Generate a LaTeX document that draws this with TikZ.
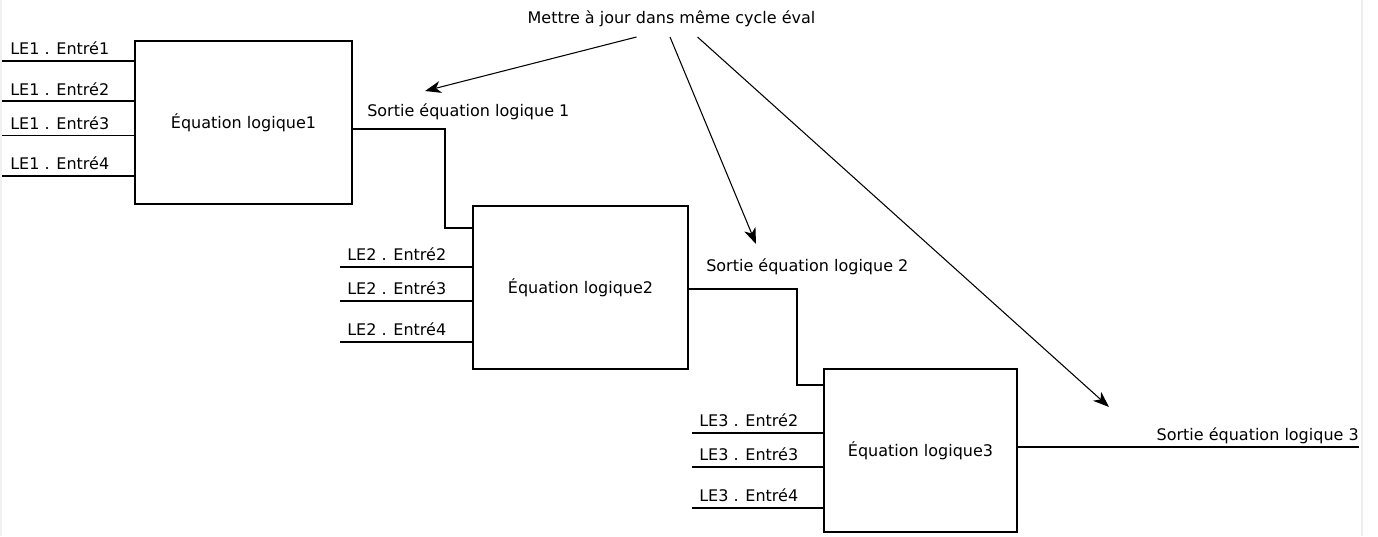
\documentclass[tikz,border=0pt]{standalone}
\usepackage{fontspec}
\setmainfont{DejaVu Sans}
\usetikzlibrary{arrows.meta}
\begin{document}
\begin{tikzpicture}[x=0.75pt,y=-0.75pt,
  font=\fontsize{12}{14}\selectfont,
  box/.style={draw,line width=1pt,inner sep=0pt,outer sep=0pt,minimum height=122.25pt},
  wire/.style={line width=1.05pt},
  lbl/.style={anchor=base west,inner sep=0pt},
  ptr/.style={line width=0.8pt,-{Stealth[length=12pt,width=9pt,inset=3.5pt]}}]
\useasboundingbox (0,0) rectangle (1378,536);
\draw[gray!12,line width=1.5pt] (1,0) -- (1,536);
\draw[gray!15,line width=1.5pt] (1362,0) -- (1362,536);
% boxes
\node[box,minimum width=162.75pt] (b1) at (243.5,122.5) {Équation logique1};
\node[box,minimum width=161.25pt] (b2) at (580.5,287.5) {Équation logique2};
\node[box,minimum width=144.75pt] (b3) at (920.5,450.5) {Équation logique3};
% inputs 1
\coordinate (i11) at (2,61);  \coordinate (i12) at (2,101);
\coordinate (i13) at (2,135.5); \coordinate (i14) at (2,176);
\foreach \c in {i11,i12,i13,i14} \draw[wire] (\c) -- (\c -| b1.west);
\node[lbl] (l11) at (10,54) {LE1 . Entré1};
\node[lbl] (l12) at (10,95) {LE1 . Entré2};
\node[lbl] (l13) at (10,129) {LE1 . Entré3};
\node[lbl] (l14) at (10,169) {LE1 . Entré4};
% inputs 2
\coordinate (i22) at (340,267); \coordinate (i23) at (340,301); \coordinate (i24) at (340,342);
\foreach \c in {i22,i23,i24} \draw[wire] (\c) -- (\c -| b2.west);
\node[lbl] (l22) at (347,260) {LE2 . Entré2};
\node[lbl] (l23) at (347,294) {LE2 . Entré3};
\node[lbl] (l24) at (347,335) {LE2 . Entré4};
% inputs 3
\coordinate (i32) at (692,433); \coordinate (i33) at (692,467); \coordinate (i34) at (692,508);
\foreach \c in {i32,i33,i34} \draw[wire] (\c) -- (\c -| b3.west);
\node[lbl] (l32) at (699,426) {LE3 . Entré2};
\node[lbl] (l33) at (699,460) {LE3 . Entré3};
\node[lbl] (l34) at (699,501) {LE3 . Entré4};
% outputs
\draw[wire] (b1.east |- 0,129) -- (445,129) |- (b2.west |- 0,228);
\draw[wire] (b2.east |- 0,289) -- (797,289) |- (b3.west |- 0,385);
\coordinate (o3) at (1359,447);
\draw[wire] (b3.east |- o3) -- (o3);
\node[lbl] (s1) at (367,116) {Sortie équation logique 1};
\node[lbl] (s2) at (706,271) {Sortie équation logique 2};
\node[anchor=base east,inner sep=0pt] (s3) at (1359,440.5) {Sortie équation logique 3};
% title and pointers
\node[anchor=base,inner sep=0pt] (t) at (671.5,23) {Mettre à jour dans même cycle éval};
\coordinate (a1s) at (636.5,37); \coordinate (a1e) at (425,91);
\coordinate (a2s) at (670,37);   \coordinate (a2e) at (756,244);
\coordinate (a3s) at (697.5,37); \coordinate (a3e) at (1109,407);
\draw[ptr] (a1s) -- (a1e);
\draw[ptr] (a2s) -- (a2e);
\draw[ptr] (a3s) -- (a3e);
\end{tikzpicture}
\end{document}
